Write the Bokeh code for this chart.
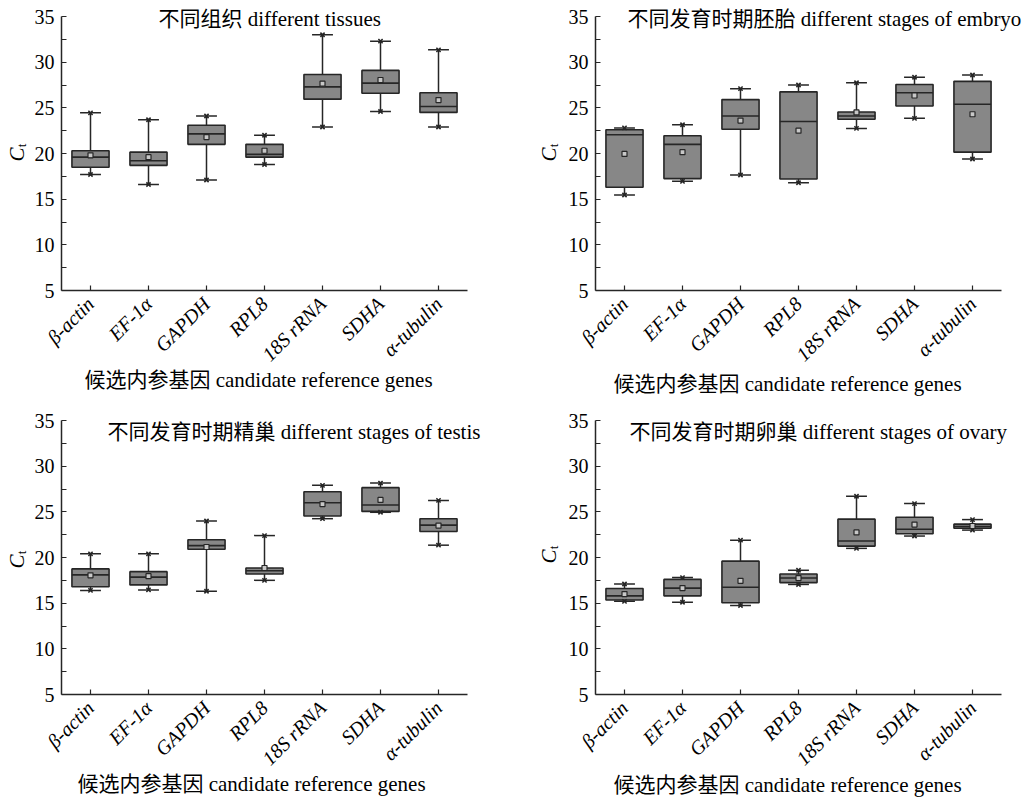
import numpy as np
from bokeh.plotting import figure
from bokeh.models import Range1d, FixedTicker, Label, ColumnDataSource
from bokeh.layouts import column, row
from bokeh.embed import file_html
from bokeh.resources import INLINE

genes = ["β-actin", "EF-1α", "GAPDH", "RPL8", "18S rRNA", "SDHA", "α-tubulin"]
y_ticks = [5, 10, 15, 20, 25, 30, 35]
y_minor = [7.5, 12.5, 17.5, 22.5, 27.5, 32.5]

# Panel 1: different tissues
t_min = [17.7, 16.6, 17.1, 18.8, 22.9, 24.6, 22.9]
t_q1 = [18.5, 18.7, 21.0, 19.6, 25.95, 26.6, 24.5]
t_med = [19.6, 19.2, 22.15, 19.9, 27.3, 27.7, 25.15]
t_q3 = [20.3, 20.15, 23.1, 21.0, 28.65, 29.1, 26.65]
t_max = [24.45, 23.7, 24.1, 22.0, 33.0, 32.3, 31.35]
t_mean = [19.8, 19.6, 21.8, 20.3, 27.65, 28.05, 25.85]

# Panel 2: embryo stages
e_min = [15.45, 16.95, 17.65, 16.8, 22.75, 23.85, 19.4]
e_q1 = [16.3, 17.25, 22.65, 17.2, 23.75, 25.2, 20.15]
e_med = [22.05, 21.0, 24.1, 23.5, 24.1, 26.65, 25.4]
e_q3 = [22.6, 21.95, 25.9, 26.75, 24.55, 27.55, 27.9]
e_max = [22.8, 23.15, 27.1, 27.5, 27.75, 28.35, 28.6]
e_mean = [19.95, 20.15, 23.6, 22.5, 24.5, 26.35, 24.3]

# Panel 3: testis stages
s_min = [16.4, 16.45, 16.3, 17.5, 24.25, 24.95, 21.35]
s_q1 = [16.8, 17.0, 20.9, 18.2, 24.55, 25.05, 22.85]
s_med = [18.1, 17.85, 21.3, 18.55, 26.0, 25.75, 23.55]
s_q3 = [18.75, 18.45, 21.95, 18.85, 27.2, 27.65, 24.25]
s_max = [20.4, 20.4, 24.0, 22.4, 27.9, 28.15, 26.25]
s_mean = [18.05, 17.95, 21.15, 18.85, 25.85, 26.3, 23.5]

# Panel 4: ovary stages
o_min = [15.2, 15.1, 14.75, 17.05, 21.0, 22.35, 23.0]
o_q1 = [15.35, 15.8, 15.05, 17.25, 21.25, 22.6, 23.2]
o_med = [15.8, 16.65, 16.75, 17.75, 21.8, 23.1, 23.4]
o_q3 = [16.6, 17.6, 19.6, 18.2, 24.2, 24.4, 23.65]
o_max = [17.1, 17.8, 21.9, 18.6, 26.7, 25.9, 24.15]
o_mean = [16.0, 16.65, 17.45, 17.75, 22.75, 23.6, 23.45]

titles = ["不同组织 different tissues",
          "不同发育时期胚胎 different stages of embryo",
          "不同发育时期精巢 different stages of testis",
          "不同发育时期卵巢 different stages of ovary"]
x_label = "候选内参基因 candidate reference genes"

FONT = "'Liberation Serif', 'Noto Sans CJK SC'"
DARK = "#262626"
FILL = "#878787"

PX_X = 58.0            # pixels per category
PX_Y = 274.0 / 30.0    # pixels per Ct unit


def panel(fw, fh, x1_px, y35_px, stats, title, title_px, xlab_px, c_px):
    mn, q1, md, q3, mx, mean = stats
    x0 = 1 - x1_px / PX_X
    y1 = 35 + y35_px / PX_Y
    p = figure(width=fw, height=fh,
               x_range=Range1d(x0, x0 + fw / PX_X),
               y_range=Range1d(y1 - fh / PX_Y, y1),
               output_backend="svg", toolbar_location=None,
               min_border=0, min_border_left=0, min_border_right=0,
               min_border_top=0, min_border_bottom=0)
    p.outline_line_color = None
    p.xgrid.visible = False
    p.ygrid.visible = False
    p.background_fill_color = "white"
    p.border_fill_color = "white"

    xs = list(range(1, len(genes) + 1))
    src = ColumnDataSource(dict(
        x=xs, mn=mn, q1=q1, md=md, q3=q3, mx=mx, mean=mean,
        cl=[x - 0.18 for x in xs], cr=[x + 0.18 for x in xs],
        bl=[x - 0.32 for x in xs], br=[x + 0.32 for x in xs]))

    p.segment(x0="x", y0="mn", x1="x", y1="mx", source=src,
              line_color=DARK, line_width=1.5)
    p.segment(x0="cl", y0="mn", x1="cr", y1="mn", source=src,
              line_color=DARK, line_width=1.5)
    p.segment(x0="cl", y0="mx", x1="cr", y1="mx", source=src,
              line_color=DARK, line_width=1.5)
    p.vbar(x="x", width=0.64, bottom="q1", top="q3", source=src,
           fill_color=FILL, line_color=DARK, line_width=1.6)
    p.segment(x0="bl", y0="md", x1="br", y1="md", source=src,
              line_color=DARK, line_width=1.6)
    p.scatter(x="x", y="mn", source=src, marker="x", size=6,
              line_color=DARK, line_width=1.6)
    p.scatter(x="x", y="mx", source=src, marker="x", size=6,
              line_color=DARK, line_width=1.6)
    p.scatter(x="x", y="mean", source=src, marker="square", size=5,
              fill_color="#c8c8c8", line_color=DARK, line_width=1.2)

    # axes, fixed at the data frame edges
    for ax in (p.xaxis[0], p.yaxis[0]):
        ax.axis_line_color = DARK
        ax.axis_line_width = 1.5
        ax.major_tick_line_color = DARK
        ax.major_tick_line_width = 1.2
        ax.minor_tick_line_color = DARK
        ax.minor_tick_line_width = 1.2
        ax.major_tick_in = 5
        ax.major_tick_out = 0
        ax.minor_tick_in = 5
        ax.minor_tick_out = 0
        ax.major_label_text_font = FONT
        ax.major_label_text_color = "black"

    p.yaxis.fixed_location = 0.5
    p.yaxis.bounds = (5, 35)
    p.yaxis.ticker = FixedTicker(ticks=y_ticks, minor_ticks=y_minor)
    p.yaxis.major_label_text_font_size = "20px"
    p.yaxis.major_label_standoff = 7

    p.xaxis.fixed_location = 5
    p.xaxis.bounds = (0.5, 7.5)
    p.xaxis.ticker = FixedTicker(ticks=xs, minor_ticks=[])
    p.xaxis.major_label_overrides = {x: g for x, g in zip(xs, genes)}
    p.xaxis.major_label_orientation = np.pi / 4
    p.xaxis.major_label_text_font_size = "20px"
    p.xaxis.major_label_text_font_style = "italic"
    p.xaxis.major_label_standoff = 10

    def lab(px, py, text, size, align="center", style="normal", angle=0.0):
        p.add_layout(Label(x=px, y=fh - py, x_units="screen", y_units="screen",
                           text=text, text_font=FONT, text_font_size=size,
                           text_font_style=style, text_align=align,
                           text_baseline="middle", angle=angle,
                           text_color="black"))

    lab(title_px[0], title_px[1], title, "21px", align="left")
    lab(xlab_px[0], xlab_px[1], x_label, "21px")
    lab(c_px[0], c_px[1], "C", "21px", style="italic", angle=np.pi / 2)
    lab(c_px[0] + 5, c_px[1] - 9, "t", "13px", angle=np.pi / 2)
    return p


p1 = panel(516, 400, 90, 16, (t_min, t_q1, t_med, t_q3, t_max, t_mean),
           titles[0], (158, 18.5), (258, 379), (16, 154))
p2 = panel(514, 400, 108, 16, (e_min, e_q1, e_med, e_q3, e_max, e_mean),
           titles[1], (111, 18.5), (271, 383), (32, 154))
p3 = panel(516, 398, 90, 20, (s_min, s_q1, s_med, s_q3, s_max, s_mean),
           titles[2], (107, 31), (251, 383), (16, 161))
p4 = panel(514, 398, 108, 20, (o_min, o_q1, o_med, o_q3, o_max, o_mean),
           titles[3], (113, 31), (271, 384), (32, 156))

layout = column(row(p1, p2), row(p3, p4))
open("out.html", "w").write(file_html(layout, INLINE))
